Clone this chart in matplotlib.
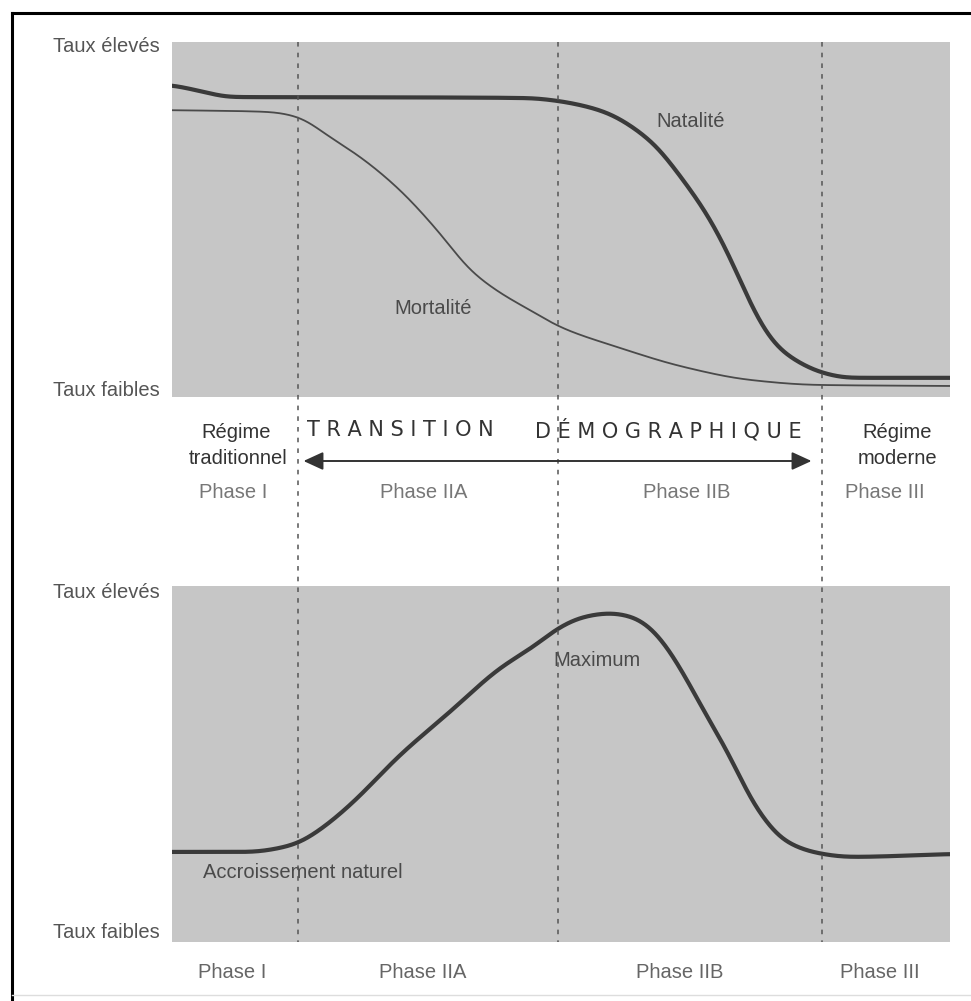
import matplotlib
matplotlib.use("Agg")
import matplotlib.pyplot as plt
import numpy as np

plt.rcParams['font.family'] = ['Liberation Sans', 'DejaVu Sans']

# ---- data (x: 0-100 relative time, y: 0-100 relative rate) ----
phase_bounds = [16.2, 49.6, 83.5]
phase_labels = ["Phase I", "Phase IIA", "Phase IIB", "Phase III"]
phase_centers_top = [7.9, 32.3, 66.1, 91.6]
phase_centers_bot = [7.7, 32.2, 65.3, 91.0]

nat_x = [0, 3.6, 7.5, 29.3, 46.0, 48.6, 55.0, 61.4, 65.7, 69.2, 71.7, 73.4, 75.2, 77.8, 80.7, 83.3, 87.1, 100]
nat_y = [87.9, 86.2, 84.5, 84.4, 84.2, 83.7, 80.8, 72.4, 61.1, 49.9, 39.4, 31.0, 22.5, 14.1, 9.6, 7.0, 5.4, 5.4]

mort_x = [0, 12.6, 16.2, 20.3, 24.2, 29.3, 34.4, 38.3, 42.2, 46.0, 49.9, 57.2, 65.7, 74.3, 82.9, 100]
mort_y = [80.8, 80.3, 78.9, 73.2, 67.6, 58.3, 46.2, 35.8, 29.3, 24.5, 19.7, 14.1, 8.5, 4.8, 3.4, 3.1]

acc_x = [0, 10.0, 13.9, 16.2, 19.0, 22.9, 29.3, 35.7, 42.2, 46.4, 49.9, 52.8, 56.3, 59.3, 61.4, 63.6,
         66.2, 68.8, 71.3, 73.0, 74.7, 76.5, 78.5, 82.9, 87.1, 100]
acc_y = [25.3, 25.3, 26.4, 27.8, 31.5, 38.5, 52.5, 64.6, 77.0, 82.9, 88.5, 91.3, 92.4, 91.3, 88.5, 82.9,
         73.6, 63.2, 53.9, 46.3, 39.0, 33.4, 28.7, 25.0, 23.9, 24.7]

W, H = 971, 1001
fig = plt.figure(figsize=(W / 100, H / 100), dpi=100)
fig.patch.set_facecolor("white")

def fx(px):
    return px / W

def fy(py):
    return 1 - py / H

L, R = 172, 950
bg = "#c6c6c6"
line_col = "#3a3a3a"
txt_col = "#4a4a4a"

def panel(top, bottom):
    ax = fig.add_axes([fx(L), fy(bottom), (R - L) / W, (bottom - top) / H])
    ax.set_xlim(0, 100)
    ax.set_ylim(0, 100)
    ax.set_facecolor(bg)
    for s in ax.spines.values():
        s.set_visible(False)
    ax.set_xticks([])
    ax.set_yticks([])
    return ax

def smooth(xs, ys, n=1000, sigma=1.2):
    xs = np.asarray(xs, float)
    ys = np.asarray(ys, float)
    t = np.linspace(xs[0], xs[-1], n)
    d = np.diff(ys) / np.diff(xs)
    m = np.zeros_like(ys)
    m[0], m[-1] = d[0], d[-1]
    for i in range(1, len(ys) - 1):
        if d[i - 1] * d[i] <= 0:
            m[i] = 0
        else:
            w1 = 2 * (xs[i + 1] - xs[i]) + (xs[i] - xs[i - 1])
            w2 = (xs[i + 1] - xs[i]) + 2 * (xs[i] - xs[i - 1])
            m[i] = (w1 + w2) / (w1 / d[i - 1] + w2 / d[i])
    idx = np.clip(np.searchsorted(xs, t) - 1, 0, len(xs) - 2)
    h = xs[idx + 1] - xs[idx]
    s = (t - xs[idx]) / h
    h00 = 2 * s**3 - 3 * s**2 + 1
    h10 = s**3 - 2 * s**2 + s
    h01 = -2 * s**3 + 3 * s**2
    h11 = s**3 - s**2
    y = h00 * ys[idx] + h10 * h * m[idx] + h01 * ys[idx + 1] + h11 * h * m[idx + 1]
    # gentle gaussian smoothing of the rendered path
    dx = t[1] - t[0]
    k = int(4 * sigma / dx)
    kern = np.exp(-0.5 * (np.arange(-k, k + 1) * dx / sigma) ** 2)
    kern /= kern.sum()
    yp = np.concatenate([np.full(k, y[0]), y, np.full(k, y[-1])])
    y = np.convolve(yp, kern, mode="valid")
    return t, y

ax1 = panel(42, 397)
ax2 = panel(586, 942)

x, y = smooth(nat_x, nat_y)
ax1.plot(x, y, color=line_col, lw=3.0)
x, y = smooth(mort_x, mort_y)
ax1.plot(x, y, color="#4a4a4a", lw=1.3)
x, y = smooth(acc_x, acc_y)
ax2.plot(x, y, color=line_col, lw=3.0)

fs = 14.5
ax1.text(66.6, 77.5, "Natalité", color=txt_col, fontsize=fs, ha="center", va="center")
ax1.text(33.5, 25.0, "Mortalité", color=txt_col, fontsize=fs, ha="center", va="center")
ax2.text(54.6, 79.0, "Maximum", color=txt_col, fontsize=fs, ha="center", va="center")
ax2.text(16.8, 19.5, "Accroissement naturel", color=txt_col, fontsize=fs, ha="center", va="center")

# overlay axis spanning both panels for dashed boundaries, arrow and labels
ov = fig.add_axes([fx(L), fy(942), (R - L) / W, (942 - 42) / H])
ov.set_xlim(0, 100)
ov.set_ylim(942, 42)
ov.patch.set_alpha(0)
ov.axis("off")
for b in phase_bounds:
    ov.plot([b, b], [42, 942], color="#555555", lw=1.1, ls=(0, (3, 4)))

# y labels
for yy, lab in [(46, "Taux élevés"), (391, "Taux faibles"), (592, "Taux élevés"), (933, "Taux faibles")]:
    fig.text(fx(160), fy(yy), lab, color="#555555", fontsize=fs, ha="right", va="center")

# middle band
dark = "#333333"
fig.text(fx(236), fy(432), "Régime", color=dark, fontsize=fs, ha="center", va="center")
fig.text(fx(238), fy(458), "traditionnel", color=dark, fontsize=fs, ha="center", va="center")
fig.text(fx(897), fy(432), "Régime", color=dark, fontsize=fs, ha="center", va="center")
fig.text(fx(897), fy(458), "moderne", color=dark, fontsize=fs, ha="center", va="center")
fig.text(fx(307), fy(430), "T R A N S I T I O N", color=dark, fontsize=15, ha="left", va="center",
         family=['DejaVu Sans'])
fig.text(fx(535), fy(430), "D É M O G R A P H I Q U E", color=dark, fontsize=15, ha="left", va="center",
         family=['DejaVu Sans'])
ov.annotate("", xy=(82.2, 461), xytext=(16.9, 461),
            arrowprops=dict(arrowstyle="<|-|>,head_length=1.2,head_width=0.55", color=dark, lw=1.4,
                            shrinkA=0, shrinkB=0))

for c, lab in zip(phase_centers_top, phase_labels):
    ov.text(c, 493, lab, color="#777777", fontsize=fs, ha="center", va="center")
for c, lab in zip(phase_centers_bot, phase_labels):
    fig.text(fx(L + c / 100 * (R - L)), fy(972), lab, color="#666666", fontsize=fs, ha="center", va="center")

# frame lines (top and left black, bottom faint)
fig.add_artist(plt.Line2D([fx(12), 1], [fy(13), fy(13)], color="black", lw=2.2))
fig.add_artist(plt.Line2D([fx(12), fx(12)], [fy(13), 0], color="black", lw=2.2))
fig.add_artist(plt.Line2D([fx(12), 1], [fy(995), fy(995)], color="#dddddd", lw=1))

fig.savefig("out.png", dpi=100, facecolor="white")
